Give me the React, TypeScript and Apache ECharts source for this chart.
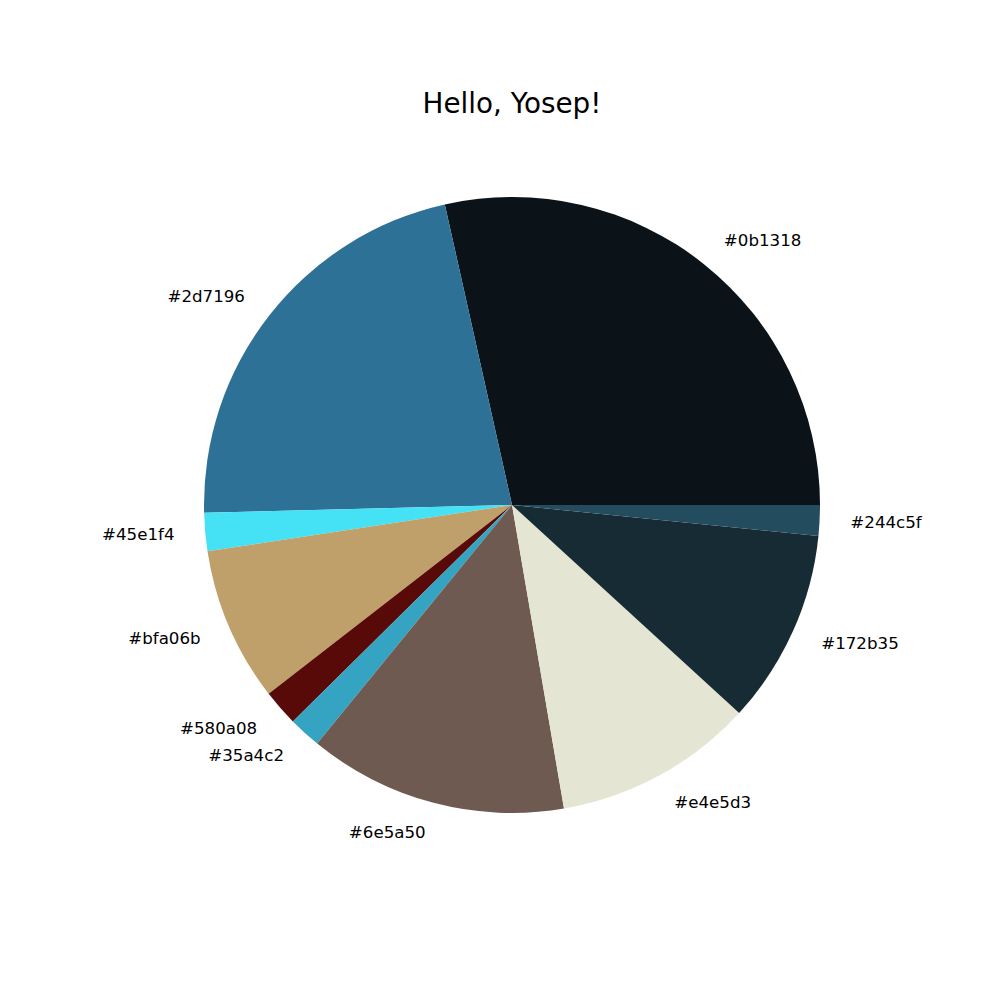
import React, { useEffect, useRef } from "react";
import * as echarts from "echarts";

const labels = ["#0b1318", "#2d7196", "#45e1f4", "#bfa06b", "#580a08", "#35a4c2", "#6e5a50", "#e4e5d3", "#172b35", "#244c5f"];
const values = [28.5, 21.9, 2.0, 8.1, 1.9, 1.7, 13.6, 10.5, 10.2, 1.6];
const colors = ["#0b1318", "#2d7196", "#45e1f4", "#bfa06b", "#580a08", "#35a4c2", "#6e5a50", "#e4e5d3", "#172b35", "#244c5f"];
const title = "Hello, Yosep!";

export default function App() {
  const ref = useRef<HTMLDivElement>(null);
  useEffect(() => {
    document.body.style.margin = "0";
    const chart = echarts.init(ref.current!, null, { renderer: "svg" });
    const radius = 308;
    chart.setOption({
      animation: false,
      backgroundColor: "#ffffff",
      graphic: [
        {
          type: "text",
          x: 512,
          y: 103,
          style: {
            text: title,
            fontFamily: "DejaVu Sans",
            fontSize: 27.8,
            fill: "#000",
            align: "center",
            verticalAlign: "middle",
          },
        },
      ],
      series: [
        {
          type: "pie",
          center: [512, 505],
          radius: [0, radius],
          startAngle: 0,
          clockwise: false,
          avoidLabelOverlap: false,
          minAngle: 0,
          data: labels.map((name, i) => ({ name, value: values[i], itemStyle: { color: colors[i] } })),
          label: {
            show: true,
            position: "outside",
            formatter: "{b}",
            fontFamily: "DejaVu Sans",
            fontSize: 16.67,
            color: "#000",
            distanceToLabelLine: 0,
          },
          labelLine: { show: false, length: radius * 0.1, length2: 0 },
          emphasis: { disabled: true },
        },
      ],
    });
    return () => chart.dispose();
  }, []);
  return <div ref={ref} style={{ width: 1000, height: 1000 }} />;
}
